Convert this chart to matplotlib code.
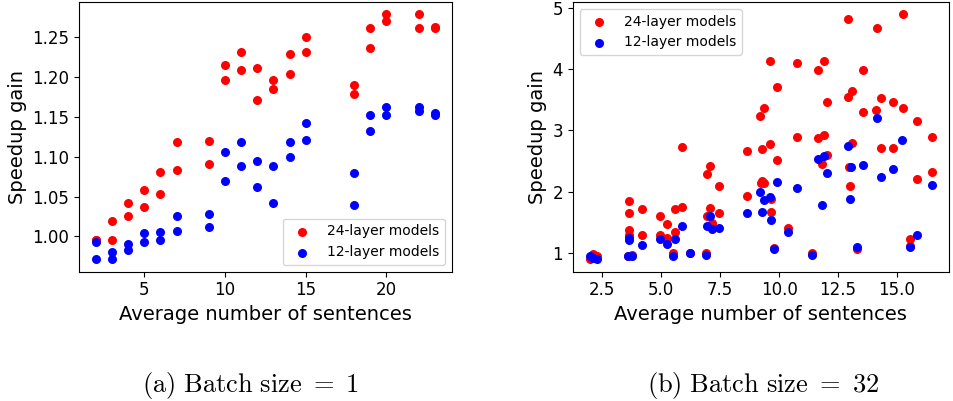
import matplotlib.pyplot as plt

plt.rcParams['mathtext.fontset'] = 'cm'

# (a) batch size = 1
a_x = [2, 3, 4, 5, 6, 7, 9, 10, 11, 12, 13, 14, 15, 18, 19, 20, 22, 23]
a_red_hi = [0.996, 1.019, 1.042, 1.058, 1.081, 1.118, 1.120, 1.215, 1.232, 1.211, 1.197, 1.229, 1.250,
            1.190, 1.262, 1.279, 1.279, 1.263]
a_red_lo = [0.996, 0.996, 1.025, 1.037, 1.053, 1.083, 1.091, 1.197, 1.209, 1.171, 1.185, 1.204, 1.231,
            1.179, 1.237, 1.271, 1.262, 1.262]
a_blue_hi = [0.993, 0.980, 0.990, 1.004, 1.005, 1.025, 1.028, 1.106, 1.118, 1.095, 1.088, 1.118, 1.142,
             1.079, 1.152, 1.162, 1.162, 1.155]
a_blue_lo = [0.971, 0.972, 0.983, 0.993, 0.995, 1.007, 1.012, 1.070, 1.088, 1.062, 1.042, 1.100, 1.121,
             1.040, 1.132, 1.153, 1.158, 1.152]

# (b) batch size = 32
b_red_x = [1.97, 2.11, 2.28, 3.63, 3.63, 3.63, 3.63, 3.57, 3.74, 4.18, 4.18, 4.94, 4.96, 5.26, 5.26,
           5.49, 5.60, 5.60, 5.87, 5.87, 6.20, 6.90, 6.96, 6.96, 7.05, 7.05, 7.16, 7.43, 7.43,
           8.64, 8.64, 9.19, 9.26, 9.26, 9.22, 9.35, 9.36, 9.61, 9.61, 9.64, 9.64, 9.77, 9.92, 9.92,
           10.39, 10.77, 10.77, 11.39, 11.63, 11.63, 11.80, 11.92, 11.92, 12.04, 12.05,
           12.92, 12.92, 12.98, 12.99, 13.07, 13.08, 13.29, 13.54, 13.54, 14.13, 14.12, 14.31, 14.33,
           14.81, 14.84, 15.24, 15.24, 15.53, 15.53, 15.85, 15.85, 16.48, 16.48]
b_red_y = [0.90, 0.99, 0.96, 1.85, 1.66, 1.38, 1.30, 0.95, 0.97, 1.72, 1.30, 1.61, 1.29, 1.48, 1.25,
           1.00, 1.72, 1.34, 1.76, 2.73, 1.00, 1.00, 2.29, 1.60, 2.42, 1.73, 1.50, 2.09, 1.65,
           2.66, 1.94, 3.24, 2.70, 2.18, 2.14, 3.36, 2.14, 4.13, 2.78, 1.88, 1.67, 1.08, 3.70, 2.52,
           1.42, 4.10, 2.90, 1.00, 3.99, 2.88, 2.46, 4.13, 2.93, 3.46, 2.60,
           4.81, 3.55, 2.40, 2.10, 3.64, 2.79, 1.07, 3.98, 3.30, 4.67, 3.33, 3.53, 2.71,
           3.47, 2.71, 4.89, 3.36, 1.23, 1.12, 3.15, 2.21, 2.89, 2.32]
b_blue_x = [1.97, 2.11, 2.28, 3.63, 3.63, 3.57, 3.74, 4.18, 4.96, 5.26, 5.60, 5.87, 5.49, 6.20, 6.90,
            7.05, 6.96, 7.16, 7.43, 8.64, 9.19, 9.26, 9.36, 9.61, 9.64, 9.92, 9.77,
            10.39, 10.77, 11.39, 11.63, 11.92, 12.05, 11.80, 12.92, 13.06, 13.54, 12.99, 13.29,
            14.13, 14.33, 14.84, 15.22, 15.85, 15.53, 16.48]
b_blue_y = [0.96, 0.92, 0.90, 1.25, 1.22, 0.96, 0.95, 1.14, 1.24, 1.15, 1.24, 1.44, 0.96, 1.00, 0.97,
            1.60, 1.45, 1.40, 1.42, 1.66, 1.99, 1.67, 1.86, 1.91, 1.55, 2.16, 1.07,
            1.34, 2.06, 0.98, 2.54, 2.59, 2.30, 1.79, 2.75, 2.40, 2.44, 1.88, 1.10,
            3.20, 2.24, 2.37, 2.84, 1.29, 1.10, 2.11]

fig = plt.figure(figsize=(9.54, 4.01), dpi=100)
ax1 = fig.add_axes([0.0828, 0.3224, 0.3907, 0.6726])
ax2 = fig.add_axes([0.6003, 0.3224, 0.3945, 0.6726])

ms = 30
ax1.scatter(a_x, a_red_hi, s=ms, color='red', label='24-layer models')
ax1.scatter(a_x, a_red_lo, s=ms, color='red')
ax1.scatter(a_x, a_blue_hi, s=ms, color='blue', label='12-layer models')
ax1.scatter(a_x, a_blue_lo, s=ms, color='blue')
ax1.set_yticks([1.00, 1.05, 1.10, 1.15, 1.20, 1.25])
ax1.set_xticks([5, 10, 15, 20])
ax1.legend(loc='lower right', fontsize=10)

ax2.scatter(b_red_x, b_red_y, s=ms, color='red', label='24-layer models')
ax2.scatter(b_blue_x, b_blue_y, s=ms, color='blue', label='12-layer models')
ax2.set_yticks([1, 2, 3, 4, 5])
ax2.legend(loc='upper left', fontsize=10)

for ax in (ax1, ax2):
    ax.set_xlabel('Average number of sentences', fontsize=14)
    ax.set_ylabel('Speedup gain', fontsize=14)
    ax.tick_params(labelsize=12)

fig.text(0.263, 0.038, r'$\mathrm{(a)\ Batch\ size\ =\ 1}$', ha='center', va='center', fontsize=19)
fig.text(0.80, 0.038, r'$\mathrm{(b)\ Batch\ size\ =\ 32}$', ha='center', va='center', fontsize=19)

fig.savefig('out.png', dpi=100)
